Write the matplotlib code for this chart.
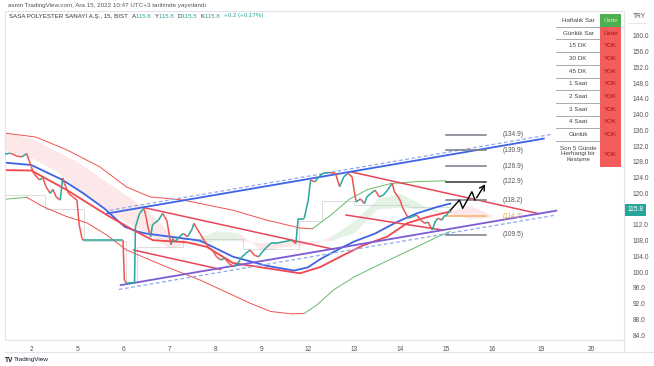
import matplotlib
matplotlib.use('Agg')
import matplotlib.pyplot as plt
from matplotlib.collections import LineCollection
from matplotlib.patches import Rectangle
from matplotlib.lines import Line2D

plt.rcParams['font.family'] = ['Liberation Sans', 'DejaVu Sans']

W, H = 654, 366

# x axis is in trading days, Dec 2 = 0
day_ticks = [0, 1, 2, 3, 4, 5, 6, 7, 8, 9, 10, 11.07, 12.15]
day_labels = ['2', '5', '6', '7', '8', '9', '12', '13', '14', '15', '16', '19', '20']
# 116.0 is hidden behind the last price tag
price_ticks = [160, 156, 152, 148, 144, 140, 136, 132, 128, 124, 120, 112,
               108, 104, 100, 96, 92, 88, 84]

# 15m closes
price_d = [-0.57, -0.45, -0.3, -0.2, -0.1, 0.0, 0.05, 0.18, 0.25, 0.32, 0.41, 0.47,
           0.54, 0.63, 0.68, 0.72, 0.81, 0.9, 0.99, 1.04, 1.1, 1.13, 1.99, 2.02, 2.06,
           2.24, 2.26, 2.3, 2.35, 2.44, 2.49, 2.53, 2.59, 2.63, 2.67, 2.76, 2.85, 2.89,
           2.94, 3.03, 3.07, 3.12, 3.21, 3.3, 3.39, 3.48, 3.53, 3.57, 3.66, 3.75, 3.84,
           3.93, 4.02, 4.11, 4.2, 4.29, 4.39, 4.48, 4.57, 4.66, 4.75, 4.84, 4.93, 5.02,
           5.11, 5.2, 5.29, 5.47, 5.65, 5.74, 5.79, 5.92, 6.01, 6.06, 6.15, 6.24, 6.33,
           6.46, 6.6, 6.69, 6.78, 6.87, 6.96, 7.01, 7.05, 7.14, 7.23, 7.28, 7.37, 7.46,
           7.55, 7.64, 7.73, 7.83, 7.88, 7.96, 8.0, 8.05, 8.11, 8.18, 8.27, 8.36, 8.45,
           8.54, 8.61, 8.7, 8.77, 8.83, 8.91, 8.95, 9.01, 9.09]
price_p = [130.0, 130.2, 129.4, 129.3, 130.1, 126.8, 125.1, 123.4, 124.0, 121.7, 120.0, 121.0,
           119.1, 118.3, 123.9, 122.5, 120.0, 119.1, 118.3, 112.0, 108.6, 108.1, 108.1, 98.0, 97.2,
           97.3, 111.5, 113.0, 114.9, 116.2, 114.1, 111.5, 109.0, 112.0, 112.4, 113.2, 114.9, 114.1,
           113.2, 107.0, 108.5, 107.7, 109.0, 109.8, 109.0, 110.7, 112.4, 111.5, 109.8, 108.1, 106.4,
           105.6, 103.9, 103.1, 103.5, 102.2, 101.4, 102.2, 103.9, 104.8, 105.6, 104.3, 103.9, 105.2,
           106.4, 107.3, 107.3, 107.7, 108.1, 107.3, 113.6, 113.6, 118.3, 123.4, 122.9, 124.2, 125.1,
           125.3, 125.1, 121.7, 124.2, 125.1, 124.2, 120.4, 117.8, 118.6, 117.4, 119.1, 120.0, 120.8,
           119.1, 119.6, 120.8, 122.6, 120.4, 119.1, 118.3, 116.6, 115.2, 113.7, 114.1, 114.5, 113.2,
           112.4, 112.7, 110.7, 113.0, 113.7, 113.2, 114.1, 114.5, 115.8]

# moving averages
blue_d = [-0.57, 0.0, 0.68, 1.13, 1.58, 2.03, 2.31, 2.49, 3.08, 3.66, 4.38, 5.11, 5.7,
          6.0, 6.27, 6.7, 7.01, 7.46, 7.91, 8.36, 8.82, 9.09]
blue_p = [127.8, 127.2, 123.4, 120.0, 116.2, 111.5, 110.3, 109.8, 108.9, 108.0, 103.9,
          101.6, 100.4, 101.2, 103.3, 106.0, 107.8, 109.8, 112.6, 114.9, 116.6, 117.4]
red_d = [-0.57, 0.0, 0.78, 1.64, 2.21, 2.64, 3.37, 3.81, 4.38, 5.11, 5.83, 6.27, 6.77,
         7.2, 7.72, 8.15, 8.59, 9.09]
red_p = [125.9, 125.8, 120.8, 114.5, 110.7, 108.1, 107.6, 106.4, 102.3, 101.0, 99.7, 101.3,
         104.3, 106.8, 109.0, 112.4, 114.0, 115.4]

# envelope bands (split index where colour turns green)
upper_d = [-0.57, 0.1, 0.78, 1.49, 2.07, 2.58, 3.3, 4.38, 5.11, 5.83, 6.1, 6.5, 6.9, 7.3,
           7.8, 8.4, 9.0]
upper_p = [135.3, 134.3, 131.0, 126.7, 121.6, 119.1, 118.3, 115.7, 113.2, 111.2, 111.0,
           114.5, 118.5, 121.0, 122.5, 123.0, 123.2]
upper_split = 10
lower_d = [-0.57, -0.1, 0.26, 0.77, 1.21, 1.64, 2.07, 2.94, 3.66, 4.29, 4.75, 5.2, 5.65,
           5.92, 6.19, 6.56, 7.01, 7.46, 7.91, 8.36, 8.82, 9.09]
lower_p = [118.5, 119.0, 116.6, 114.1, 112.5, 109.4, 105.6, 101.3, 98.0, 94.6, 92.1, 90.0,
           89.4, 89.5, 91.6, 95.5, 98.8, 101.4, 103.9, 106.4, 109.0, 110.3]
lower_split = 13

# cloud
cloud_d = [-0.57, 0.0, 0.5, 1.0, 1.5, 2.0, 2.5, 3.0, 3.5, 4.0, 4.5, 5.0, 5.5, 6.0, 6.5,
           7.0, 7.5, 8.0, 8.5, 9.0, 9.5, 10.0]
span_a = [131, 129, 126, 121, 117, 113, 110, 106, 108, 110.5, 110, 105.5, 106.5, 107, 109,
          113, 118.5, 120, 117, 115, 113.6, 114]
span_b = [135.5, 134, 131, 128, 124, 120, 116, 110, 107, 108, 108, 107.5, 108, 108, 108,
          110, 116, 116.5, 116, 115, 117, 114.5]
kijun_d = [-0.57, 0.3, 0.3, 1.15, 1.15, 2.05, 2.05, 2.3, 2.3, 3.3, 3.3, 4.6, 4.6, 5.8,
           5.8, 6.3, 6.3, 7.0, 7.0, 8.2, 8.2, 9.09]
kijun_p = [119.5, 119.5, 116, 116, 108, 108, 97.5, 97.5, 106.5, 106.5, 108.5, 108.5, 106,
           106, 113, 113, 118, 118, 117, 117, 116.5, 116.5]

# drawn trend lines ((d0, p0), (d1, p1))
blue_trend = [(1.65, 114.9), (11.12, 133.9)]
blue_dash = [(1.7, 115.7), (11.3, 135.0)]
purple_trend = [(1.94, 96.7), (11.39, 115.6)]
purple_dash = [(1.9, 95.6), (11.39, 114.5)]
red_trends = [[(2.44, 116.4), (6.56, 105.8)],
              [(2.22, 105.6), (4.11, 100.7)],
              [(6.92, 125.5), (10.99, 114.9)],
              [(6.83, 114.5), (8.91, 110.7)]]

# target levels and projected path
targets = [134.9, 130.9, 126.9, 122.9, 118.2, 114.2, 109.5]
zig_d = [9.10, 9.29, 9.36, 9.56, 9.63, 9.88]
zig_p = [115.8, 118.3, 116.2, 120.4, 118.3, 122.9]

# header legend pieces
legend_parts = [('SASA POLYESTER SANAYİ A.Ş., 15, BIST  ', '#333333'),
                ('A', '#333333'), ('115.6  ', '#26a69a'),
                ('Y', '#333333'), ('115.8  ', '#26a69a'),
                ('D', '#333333'), ('115.5  ', '#26a69a'),
                ('K', '#333333'), ('115.8  ', '#26a69a'),
                ('+0.2 (+0.17%)', '#26a69a')]

# table
table_labels = ['Haftalık Sar', 'Günlük Sar', '15 DK', '30 DK', '45 DK', '1 Saat', '2 Saat',
                '3 Saat', '4 Saat', 'Günlük', 'Son 5 Günde\nHerhangi bir\nKesişme']
table_values = ['Üstte', 'Üstte', 'YOK', 'YOK', 'YOK', 'YOK', 'YOK', 'YOK', 'YOK', 'YOK', 'YOK']
table_green = [True, False, False, False, False, False, False, False, False, False, False]

GREEN = '#26a69a'
RED = '#ef5350'


def fx(x):
    return x / W


def fy(y):
    return 1 - y / H


fig = plt.figure(figsize=(W / 100, H / 100), dpi=100)
fig.patch.set_facecolor('white')
ax = fig.add_axes([fx(5), fy(340), fx(624) - fx(5), fy(11) - fy(340)])
ax.set_xlim(-0.57, 12.86)
ax.set_ylim(82.77, 166.3)

# cloud
for i in range(len(cloud_d) - 1):
    xs = cloud_d[i:i + 2]
    col = '#a5d6a7' if span_a[i] + span_a[i + 1] > span_b[i] + span_b[i + 1] else '#f8b4b4'
    ax.fill_between(xs, span_a[i:i + 2], span_b[i:i + 2], color=col, alpha=0.3, lw=0)
ax.plot(kijun_d, kijun_p, color='#bdbdbd', lw=0.6, alpha=0.6)

# bands
ax.plot(upper_d[:upper_split + 1], upper_p[:upper_split + 1], color=RED, lw=0.7)
ax.plot(upper_d[upper_split:], upper_p[upper_split:], color='#66bb6a', lw=0.7)
ax.plot(lower_d[:2], lower_p[:2], color='#66bb6a', lw=0.7)
ax.plot(lower_d[1:lower_split + 1], lower_p[1:lower_split + 1], color=RED, lw=0.7)
ax.plot(lower_d[lower_split:], lower_p[lower_split:], color='#66bb6a', lw=0.7)

# MAs
ax.plot(blue_d, blue_p, color='#3d63e6', lw=1.3)
ax.plot(red_d, red_p, color='#f0464f', lw=1.3)

# price as coloured segments
segs = []
cols = []
for i in range(1, len(price_d)):
    segs.append([(price_d[i - 1], price_p[i - 1]), (price_d[i], price_p[i])])
    cols.append(GREEN if price_p[i] >= price_p[i - 1] else RED)
ax.add_collection(LineCollection(segs, colors=cols, linewidths=1.1, zorder=4))

# trend lines
for a, b in red_trends:
    ax.plot([a[0], b[0]], [a[1], b[1]], color='#e8455a', lw=1.1, zorder=3)
ax.plot(*zip(*blue_trend), color='#3d63e6', lw=1.3, zorder=3)
ax.plot(*zip(*blue_dash), color='#8fa8f0', lw=0.9, ls=(0, (3, 2)), zorder=3)
ax.plot(*zip(*purple_trend), color='#7b5bd6', lw=1.3, zorder=3)
ax.plot(*zip(*purple_dash), color='#8fa8f0', lw=0.9, ls=(0, (3, 2)), zorder=3)

# target levels
for t in targets:
    lc = '#f6b26b' if t == 114.2 else ('#333333' if t == 122.9 else '#787b86')
    tc = '#f0a030' if t == 114.2 else '#555555'
    ax.plot([9.0, 9.87], [t, t], color=lc, lw=1.1, zorder=3)
    ax.text(10.45, t, '(%.1f)' % t, fontsize=4.8, color=tc, ha='center', va='center')

# projection zigzag
ax.plot(zig_d[:-1], zig_p[:-1], color='black', lw=1.0, zorder=5)
ax.annotate('', xy=(zig_d[-1], zig_p[-1]), xytext=(zig_d[-2], zig_p[-2]),
            arrowprops=dict(arrowstyle='->,head_length=0.35,head_width=0.2', lw=1.0,
                            color='black'), zorder=5)

# axes styling
for s in ax.spines.values():
    s.set_color('#e0e3eb')
    s.set_linewidth(0.8)
ax.set_xticks(day_ticks)
ax.set_xticklabels(day_labels)
ax.set_yticks(price_ticks)
ax.set_yticklabels(['%.1f' % p for p in price_ticks])
ax.yaxis.tick_right()
ax.tick_params(axis='both', length=0, labelsize=4.8, colors='#555555')
ax.tick_params(axis='x', pad=4)
ax.tick_params(axis='y', pad=6)

# last price tag
ax.text(1.006, (115.8 - 82.77) / (166.3 - 82.77), '115.8', transform=ax.transAxes,
        fontsize=4.8, color='white', ha='left', va='center',
        bbox=dict(boxstyle='square,pad=0.35', fc='#26a69a', ec='none'), zorder=6)
fig.text(fx(633), fy(17), 'TRY', fontsize=4.8, color='#555555', va='center')
fig.add_artist(Line2D([fx(628), fx(648)], [fy(23), fy(23)], color='#bbbbbb', lw=0.5,
                      ls=(0, (1, 1))))
fig.add_artist(Line2D([fx(624), fx(624)], [fy(340), fy(352)], color='#e0e3eb', lw=0.8))
fig.add_artist(Line2D([fx(5), fx(654)], [fy(352), fy(352)], color='#e0e3eb', lw=0.8))

# headers
fig.text(fx(8), fy(6), 'asmn TradingView.com, Ara 15, 2022 10:47 UTC+3 tarihinde yayınlandı',
         fontsize=4.5, color='#555555', va='center')
renderer = fig.canvas.get_renderer()
x = 9
for txt, c in legend_parts:
    t = fig.text(fx(x), fy(16), txt, fontsize=4.4, color=c, va='center')
    x = t.get_window_extent(renderer).x1 + 0.3
fig.text(fx(5), fy(360), 'TV', fontsize=4.8, color='#131722', va='center', weight='bold')
fig.text(fx(14), fy(360), 'TradingView', fontsize=4.6, color='#131722', va='center')

# table
rows = [14, 26.7, 39.4, 52.1, 64.8, 77.5, 90.2, 102.9, 115.6, 128.3, 141, 167]
for i, (lab, val, g) in enumerate(zip(table_labels, table_values, table_green)):
    y0, y1 = rows[i], rows[i + 1]
    fig.patches.append(Rectangle((fx(600), fy(y1)), fx(621) - fx(600), fy(y0) - fy(y1),
                                 transform=fig.transFigure, fc='#4caf50' if g else '#f45b5b',
                                 ec='none'))
    ym = (y0 + y1) / 2
    fig.text(fx(578), fy(ym), lab, fontsize=4.5, color='#444444', ha='center', va='center',
             linespacing=1.1)
    fig.text(fx(610.5), fy(ym), val, fontsize=4.5, color='#d8f0a0' if g else '#a01818',
             ha='center', va='center')
    if i < len(table_labels) - 1:
        fig.add_artist(Line2D([fx(556), fx(600)], [fy(y1), fy(y1)], color='#9e9e9e', lw=0.6))

fig.savefig('out.png', dpi=100)
